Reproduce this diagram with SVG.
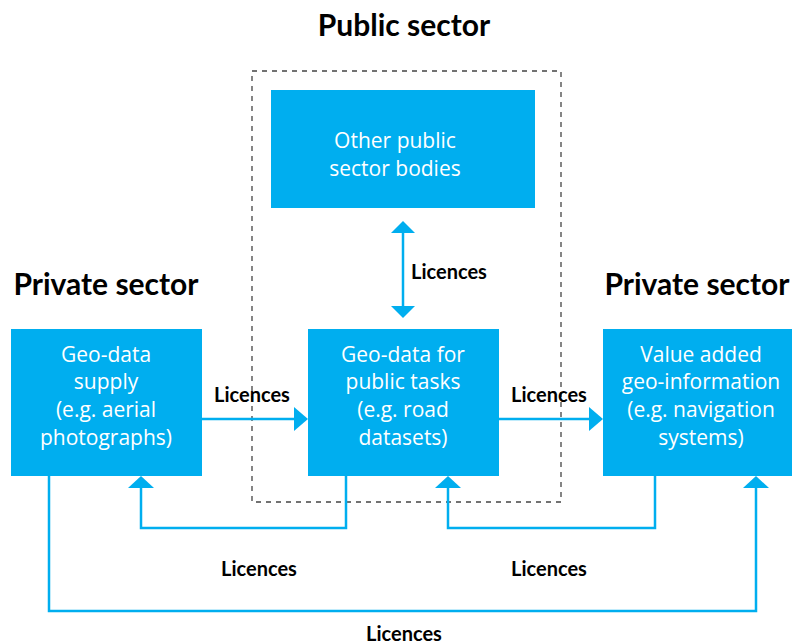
<svg xmlns="http://www.w3.org/2000/svg" width="792" height="644" viewBox="0 0 792 644">
<style>
.box{fill:#00AEEF}
.bt{font-family:"Open Sans",Lato,sans-serif;font-size:21px;fill:#ffffff;text-anchor:middle}
.h{font-family:Lato,"Open Sans",sans-serif;font-size:30px;font-weight:bold;fill:#000;text-anchor:middle}
.lb{font-family:Lato,"Open Sans",sans-serif;font-size:20px;font-weight:bold;fill:#000;text-anchor:middle}
.ln{fill:none;stroke:#00AEEF;stroke-width:2.5}
.ah{fill:#00AEEF}
</style>
<rect width="792" height="644" fill="#ffffff"/>
<text class="h" x="404" y="36">Public sector</text>
<text class="h" x="106" y="295">Private sector</text>
<text class="h" x="697" y="295">Private sector</text>
<rect id="public-sector-frame" x="252" y="71" width="309" height="431" fill="none" stroke="#444" stroke-width="1.3" stroke-dasharray="5,5"/>
<g id="other-public">
<rect class="box" x="271" y="90" width="264" height="118"/>
<text class="bt" x="395" y="148">Other public</text>
<text class="bt" x="395" y="176">sector bodies</text>
</g>
<g id="geo-supply">
<rect class="box" x="11" y="329" width="191" height="147"/>
<text class="bt" x="106" y="362">Geo-data</text>
<text class="bt" x="106" y="389">supply</text>
<text class="bt" x="106" y="417">(e.g. aerial</text>
<text class="bt" x="106" y="445">photographs)</text>
</g>
<g id="geo-public">
<rect class="box" x="308" y="329" width="191" height="147"/>
<text class="bt" x="403" y="362">Geo-data for</text>
<text class="bt" x="403" y="389">public tasks</text>
<text class="bt" x="403" y="417">(e.g. road</text>
<text class="bt" x="403" y="445">datasets)</text>
</g>
<g id="value-added">
<rect class="box" x="603" y="329" width="189" height="147"/>
<text class="bt" x="701" y="362">Value added</text>
<text class="bt" x="701" y="389">geo-information</text>
<text class="bt" x="701" y="417">(e.g. navigation</text>
<text class="bt" x="701" y="445">systems)</text>
</g>
<g id="connectors">
<line class="ln" x1="403" y1="230" x2="403" y2="308"/>
<polygon class="ah" points="403,221 391,233 415,233"/>
<polygon class="ah" points="403,318 391,306 415,306"/>
<line class="ln" x1="202" y1="419" x2="295" y2="419"/>
<polygon class="ah" points="308,419 294,407 294,431"/>
<line class="ln" x1="499" y1="419" x2="590" y2="419"/>
<polygon class="ah" points="603,419 589,407 589,431"/>
<polyline class="ln" points="346,476 346,528 141,528 141,486"/>
<polygon class="ah" points="141,476 128,488 154,488"/>
<polyline class="ln" points="655,476 655,528 448,528 448,486"/>
<polygon class="ah" points="448,476 435,488 461,488"/>
<polyline class="ln" points="49,476 49,611 756,611 756,486"/>
<polygon class="ah" points="756,476 743,488 769,488"/>
</g>
<g id="labels">
<text class="lb" x="449" y="279">Licences</text>
<text class="lb" x="252" y="402">Licences</text>
<text class="lb" x="549" y="402">Licences</text>
<text class="lb" x="259" y="576">Licences</text>
<text class="lb" x="549" y="576">Licences</text>
<text class="lb" x="404" y="641">Licences</text>
</g>
</svg>
